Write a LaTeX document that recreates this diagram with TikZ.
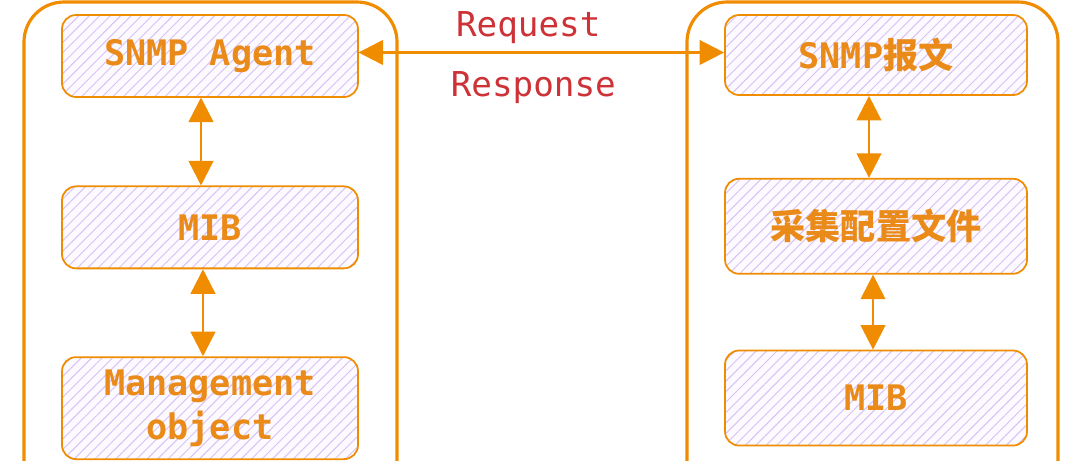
\documentclass[tikz,border=0pt]{standalone}
\usepackage{fontspec}
\setmonofont{DejaVu Sans Mono}
\newfontfamily\cjk{Noto Sans CJK SC}
\usetikzlibrary{arrows.meta,positioning,patterns.meta}
\definecolor{cOrange}{RGB}{240,140,0}
\definecolor{cText}{RGB}{234,138,24}
\definecolor{cHatch}{RGB}{214,194,244}
\definecolor{cFill}{RGB}{252,249,255}
\definecolor{cRed}{RGB}{205,50,55}
\tikzset{
  hatchbox/.style={rectangle,rounded corners=8pt,draw=cOrange,line width=1pt,
                   preaction={fill=cFill},
                   pattern={Lines[angle=45,distance=4.2pt,line width=0.55pt]},
                   pattern color=cHatch,text=cText,align=center,
                   font=\fontsize{20}{25}\selectfont\ttfamily\bfseries},
  agentnode/.style={hatchbox,minimum width=5.92cm,minimum height=1.64cm},
  nmsnode/.style={hatchbox,minimum width=6.04cm,minimum height=1.9cm},
  sidebox/.style={rectangle,rounded corners=0.8cm,draw=cOrange,line width=1.8pt,
                  minimum height=10.36cm},
  msglabel/.style={text=cRed,font=\fontsize{19.5}{25}\selectfont\ttfamily},
  biarr/.style={{Triangle[length=14pt,width=14pt]}-{Triangle[length=14pt,width=14pt]},
                line width=1.4pt,color=cOrange}
}
\begin{document}
\begin{tikzpicture}
  \useasboundingbox (0,0) rectangle (21.6,-9.2);
  % the two sides
  \node[sidebox,minimum width=7.46cm] (agentside) at (4.21,-5.22) {};
  \node[sidebox,minimum width=7.42cm] (nmsside) at (17.45,-5.22) {};

  % agent side
  \node[agentnode] (agent) at (4.2,-1.12) {SNMP Agent};
  \node[agentnode, below=1.76cm of agent] (mib) {MIB};
  \node[agentnode, minimum height=2.04cm, below=1.74cm of mib] (mgmt)
      {Management\\object};

  % manager side
  \node[nmsnode, minimum height=1.6cm] (pkt) at (17.52,-1.1)
      {SNMP{\cjk 报文}};
  \node[nmsnode, below=1.64cm of pkt] (cfg) {{\cjk 采集配置文件}};
  \node[nmsnode, below=1.5cm of cfg] (rmib) {MIB};

  \draw[biarr] ([xshift=-0.18cm]agent.south) -- ([xshift=-0.18cm]mib.north);
  \draw[biarr] ([xshift=-0.14cm]mib.south) -- ([xshift=-0.14cm]mgmt.north);
  \draw[biarr] ([xshift=-0.14cm]pkt.south) -- ([xshift=-0.14cm]cfg.north);
  \draw[biarr] ([xshift=-0.06cm]cfg.south) -- ([xshift=-0.06cm]rmib.north);

  \draw[biarr] ([yshift=2pt]agent.east) -- ([yshift=2pt]agent.east -| pkt.west)
      node[msglabel, midway, above=1pt, xshift=-0.26cm] (req) {Request}
      node[msglabel, midway, below=7pt, xshift=-0.16cm] (resp) {Response};
\end{tikzpicture}
\end{document}
